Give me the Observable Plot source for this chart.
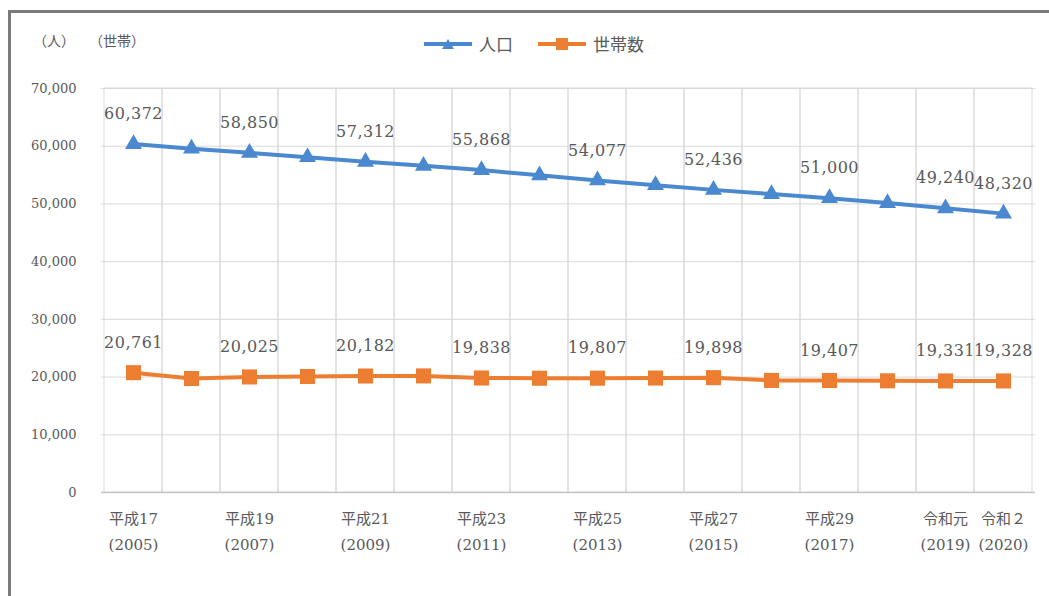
<!DOCTYPE html>
<html>
<head>
<meta charset="utf-8">
<script src="https://cdn.jsdelivr.net/npm/d3@7"></script>
<script src="https://cdn.jsdelivr.net/npm/@observablehq/plot@0.6"></script>
<style>
  html, body { margin: 0; padding: 0; background: #fff; }
  body { width: 1049px; height: 596px; overflow: hidden; position: relative;
         font-family: "DejaVu Serif", "Noto Sans CJK JP", serif; color: #595959; }
  #frame { position: absolute; left: 8px; top: 10px; width: 1100px; height: 700px;
           border-top: 3px solid #7a7a7a; border-left: 3px solid #7a7a7a; box-sizing: border-box; }
  #header { position: relative; height: 70px; }
  .unit { position: absolute; top: 30px; font-size: 14px; }
  #legend { position: absolute; left: 423px; top: 31px; display: flex; align-items: center; font-size: 17px; }
  #legend .item { display: flex; align-items: center; margin-right: 24px; }
  #legend svg { margin-right: 6px; }
  #chart { position: relative; }
  #chart svg text { font-family: "DejaVu Serif", "Noto Sans CJK JP", serif; }
  #chart svg g[aria-label="text"] text { letter-spacing: 0.5px; }
</style>
</head>
<body>
<div id="frame"></div>
<div id="header">
  <div class="unit" style="left:33px">（人）</div>
  <div class="unit" style="left:89px">（世帯）</div>
  <div id="legend"></div>
</div>
<div id="chart"></div>
<script>
const years = [2005, 2006, 2007, 2008, 2009, 2010, 2011, 2012, 2013, 2014, 2015, 2016, 2017, 2018, 2019, 2020];
const population = [60372, 59580, 58850, 58100, 57312, 56600, 55868, 54950, 54077, 53250, 52436, 51700, 51000, 50150, 49240, 48320];
const households = [20761, 19750, 20025, 20100, 20182, 20200, 19838, 19800, 19807, 19830, 19898, 19420, 19407, 19350, 19331, 19328];
const xTickLabels = ["平成17\n(2005)", "", "平成19\n(2007)", "", "平成21\n(2009)", "", "平成23\n(2011)", "",
                     "平成25\n(2013)", "", "平成27\n(2015)", "", "平成29\n(2017)", "", "令和元\n(2019)", "令和２\n(2020)"];
const labeledYears = [2005, 2007, 2009, 2011, 2013, 2015, 2017, 2019, 2020];
const yTicks = [0, 10000, 20000, 30000, 40000, 50000, 60000, 70000];
const seriesNames = ["人口", "世帯数"];
const seriesColors = ["#4a89cf", "#ed7d31"];

const data = [];
years.forEach((y, i) => {
  data.push({year: y, series: seriesNames[0], value: population[i]});
  data.push({year: y, series: seriesNames[1], value: households[i]});
});
const labelMap = new Map(years.map((y, i) => [y, xTickLabels[i]]));
const labeled = data.filter(d => labeledYears.includes(d.year));
const fmt = d3.format(",");

const legend = document.getElementById("legend");
seriesNames.forEach((name, i) => {
  const item = document.createElement("div");
  item.className = "item";
  const marker = i === 0
    ? `<polygon points="25,2 31,12 19,12" fill="${seriesColors[i]}"/>`
    : `<rect x="19" y="1" width="12" height="12" fill="${seriesColors[i]}"/>`;
  item.innerHTML = `<svg width="50" height="14"><line x1="1" x2="49" y1="7" y2="7" stroke="${seriesColors[i]}" stroke-width="4"/>${marker}</svg><span>${name}</span>`;
  legend.appendChild(item);
});

const chart = Plot.plot({
  width: 1049,
  height: 526,
  marginLeft: 101,
  marginRight: 14,
  marginTop: 18,
  marginBottom: 104,
  style: {color: "#595959", background: "transparent", fontFamily: "DejaVu Serif, Noto Sans CJK JP, serif"},
  x: {type: "band", domain: years, padding: 0},
  y: {domain: [0, 70000]},
  color: {domain: seriesNames, range: seriesColors},
  marks: [
    Plot.cell(years, {x: d => d, stroke: "#d9d9d9", fill: "none", inset: 0, strokeWidth: 1}),
    Plot.gridY(yTicks, {stroke: "#d9d9d9", strokeOpacity: 1}),
    Plot.ruleY([0], {stroke: "#c8c8c8", strokeWidth: 1.5}),
    Plot.axisY(yTicks, {tickSize: 0, tickPadding: 25, fontSize: 13, tickFormat: fmt, label: null}),
    Plot.axisX({tickSize: 0, tickPadding: 13, fontSize: 15, lineHeight: 1.75, tickFormat: d => labelMap.get(d), label: null}),
    Plot.line(data, {x: "year", y: "value", z: "series", stroke: "series", strokeWidth: 4}),
    Plot.dot(data.filter(d => d.series === seriesNames[0]), {x: "year", y: "value", symbol: "triangle", r: 6.3, fill: seriesColors[0], stroke: "none"}),
    Plot.dot(data.filter(d => d.series === seriesNames[1]), {x: "year", y: "value", symbol: "square", r: 8.5, fill: seriesColors[1], stroke: "none"}),
    Plot.text(labeled, {x: "year", y: "value", text: d => fmt(d.value), dy: -30, fontSize: 16, fill: "#595959"})
  ]
});
document.getElementById("chart").appendChild(chart);
</script>
</body>
</html>
